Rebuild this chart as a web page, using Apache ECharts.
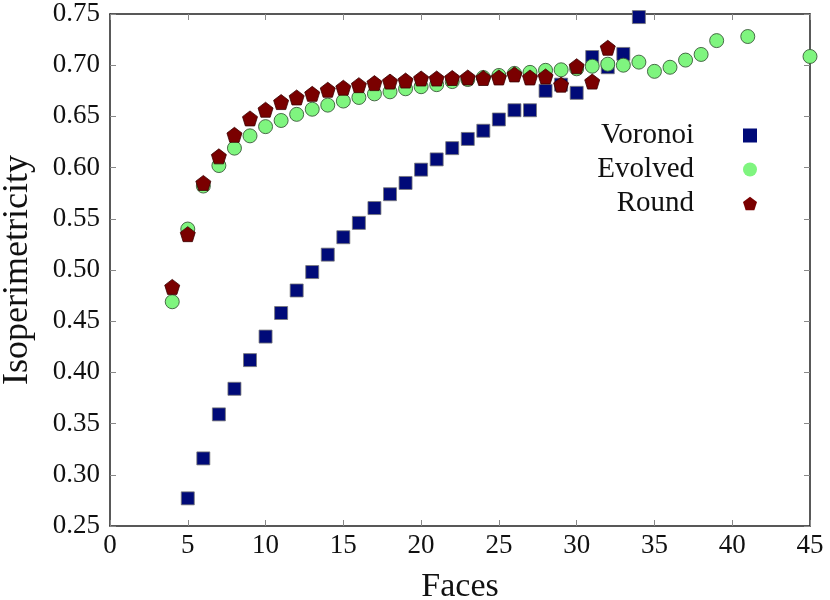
<!DOCTYPE html>
<html>
<head>
<meta charset="utf-8">
<script src="https://cdn.jsdelivr.net/npm/echarts@6/dist/echarts.min.js"></script>
<style>
  html, body { margin: 0; padding: 0; background: #fff; }
  #chart { width: 830px; height: 600px; }
</style>
</head>
<body>
<div id="chart"></div>
<script>
// data
var voronoiFaces = [5, 6, 7, 8, 9, 10, 11, 12, 13, 14, 15, 16, 17, 18, 19, 20, 21, 22, 23, 24, 25, 26, 27, 28, 29, 30, 31, 32, 33, 34];
var voronoiIso = [0.277, 0.316, 0.359, 0.384, 0.412, 0.435, 0.458, 0.480, 0.498, 0.515, 0.532, 0.546, 0.5605, 0.574, 0.585, 0.598, 0.608, 0.619, 0.628, 0.636, 0.647, 0.656, 0.656, 0.675, 0.681, 0.673, 0.708, 0.698, 0.711, 0.747];

var evolvedFaces = [4, 5, 6, 7, 8, 9, 10, 11, 12, 13, 14, 15, 16, 17, 18, 19, 20, 21, 22, 23, 24, 25, 26, 27, 28, 29, 30, 31, 32, 33, 34, 35, 36, 37, 38, 39, 41, 45];
var evolvedIso = [0.469, 0.540, 0.582, 0.602, 0.619, 0.631, 0.640, 0.646, 0.652, 0.657, 0.661, 0.665, 0.6685, 0.672, 0.674, 0.677, 0.679, 0.681, 0.684, 0.686, 0.688, 0.690, 0.692, 0.693, 0.695, 0.6955, 0.6965, 0.699, 0.701, 0.700, 0.703, 0.694, 0.698, 0.705, 0.7105, 0.724, 0.728, 0.7085];

var roundFaces = [4, 5, 6, 7, 8, 9, 10, 11, 12, 13, 14, 15, 16, 17, 18, 19, 20, 21, 22, 23, 24, 25, 26, 27, 28, 29, 30, 31, 32];
var roundIso = [0.4835, 0.535, 0.585, 0.611, 0.632, 0.648, 0.6565, 0.664, 0.6685, 0.672, 0.676, 0.678, 0.6805, 0.6825, 0.684, 0.685, 0.687, 0.687, 0.6875, 0.688, 0.6875, 0.688, 0.691, 0.688, 0.689, 0.681, 0.699, 0.684, 0.717];

var seriesNames = ['Voronoi', 'Evolved', 'Round'];

function pairs(xs, ys) {
    var out = [];
    for (var i = 0; i < xs.length; i++) out.push([xs[i], ys[i]]);
    return out;
}

var FONT = '"Liberation Serif", "DejaVu Serif", serif';
var pentagon = 'path://M0,-1 L0.951,-0.309 L0.588,0.809 L-0.588,0.809 L-0.951,-0.309 Z';

var chart = echarts.init(document.getElementById('chart'), null, { renderer: 'canvas' });

var frameLine = { show: true, onZero: false, lineStyle: { color: '#222', width: 1.5 } };
var innerTick = { show: true, inside: true, length: 6, lineStyle: { color: '#888', width: 1 } };

var option = {
    backgroundColor: '#fff',
    animation: false,
    grid: { left: 110, right: 20, top: 14, bottom: 74, containLabel: false, outerBoundsMode: 'none' },
    legend: {
        orient: 'vertical',
        left: 589,
        top: 115,
        align: 'right',
        itemWidth: 14,
        itemHeight: 14,
        itemGap: 3,
        textStyle: {
            fontFamily: FONT, fontSize: 29, color: '#111',
            width: 100, align: 'right', lineHeight: 31,
            padding: [0, 44, 0, 0]
        },
        itemStyle: { borderWidth: 0, opacity: 1 },
        data: [
            { name: seriesNames[0], icon: 'rect', itemStyle: { borderWidth: 0 } },
            { name: seriesNames[1], icon: 'circle', itemStyle: { borderWidth: 0 } },
            { name: seriesNames[2], icon: pentagon, itemStyle: { borderWidth: 0 } }
        ]
    },
    xAxis: [{
        type: 'value', min: 0, max: 45, interval: 5,
        name: 'Faces', nameLocation: 'middle', nameGap: 44,
        nameTextStyle: { fontFamily: FONT, fontSize: 34, color: '#111' },
        axisLine: frameLine, axisTick: innerTick,
        axisLabel: { fontFamily: FONT, fontSize: 27, color: '#111', margin: 6 },
        splitLine: { show: false }
    }, {
        type: 'value', position: 'top', min: 0, max: 45, interval: 5,
        axisLine: frameLine, axisTick: innerTick,
        axisLabel: { show: false }, splitLine: { show: false }
    }],
    yAxis: [{
        type: 'value', min: 0.25, max: 0.75, interval: 0.05,
        name: 'Isoperimetricity', nameLocation: 'middle', nameGap: 74,
        nameTextStyle: { fontFamily: FONT, fontSize: 36, color: '#111' },
        axisLine: frameLine, axisTick: innerTick,
        axisLabel: {
            fontFamily: FONT, fontSize: 27, color: '#111', margin: 10,
            formatter: function (v) { return v.toFixed(2); }
        },
        splitLine: { show: false }
    }, {
        type: 'value', position: 'right', min: 0.25, max: 0.75, interval: 0.05,
        axisLine: frameLine, axisTick: innerTick,
        axisLabel: { show: false }, splitLine: { show: false }
    }],
    series: [
        {
            name: seriesNames[0], type: 'scatter', clip: false, z: 2,
            symbol: 'rect', symbolSize: 13,
            itemStyle: { color: '#000a78', borderColor: '#777', borderWidth: 0.8, opacity: 1 },
            data: pairs(voronoiFaces, voronoiIso)
        },
        {
            name: seriesNames[1], type: 'scatter', clip: false, z: 3,
            symbol: 'circle', symbolSize: 14,
            itemStyle: { color: '#7ff57f', borderColor: '#3a5a3a', borderWidth: 0.9, opacity: 1 },
            data: pairs(evolvedFaces, evolvedIso)
        },
        {
            name: seriesNames[2], type: 'scatter', clip: false, z: 4,
            symbol: pentagon, symbolSize: 15,
            itemStyle: { color: '#7a0000', borderColor: '#3a0000', borderWidth: 0.8, opacity: 1 },
            data: pairs(roundFaces, roundIso)
        }
    ]
};

chart.setOption(option);
</script>
</body>
</html>
